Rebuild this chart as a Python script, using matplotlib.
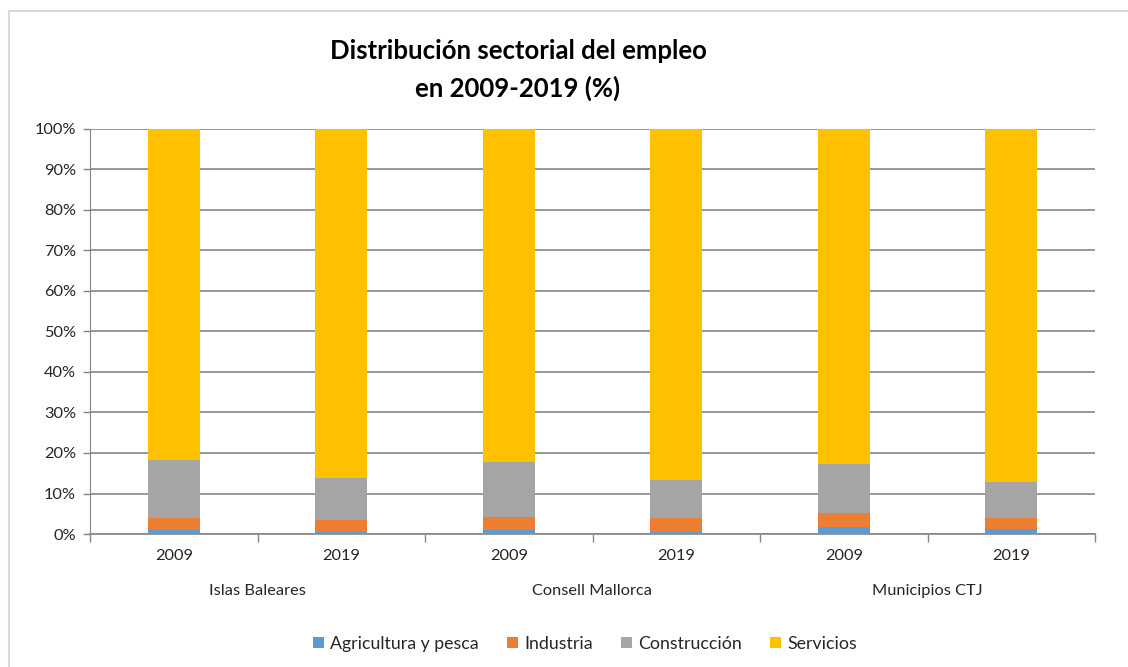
import matplotlib.pyplot as plt
import numpy as np
from matplotlib.patches import Rectangle

plt.rcParams['font.family'] = ['Lato', 'DejaVu Sans']

regions = ['Islas Baleares', 'Consell Mallorca', 'Municipios CTJ']
years = ['2009', '2019', '2009', '2019', '2009', '2019']
series = ['Agricultura y pesca', 'Industria', 'Construcción', 'Servicios']
colors = ['#5B9BD5', '#ED7D31', '#A5A5A5', '#FFC000']

# shares (%)
agricultura = [0.9, 0.6, 1.1, 0.6, 1.8, 1.3]
industria = [3.1, 2.9, 3.2, 3.4, 3.5, 2.7]
construccion = [14.3, 10.4, 13.6, 9.4, 12.1, 8.9]
servicios = [100 - a - b - c for a, b, c in zip(agricultura, industria, construccion)]

def main():
	fig = plt.figure(figsize=(11.28, 6.67), dpi=100)
	fig.patches.append(Rectangle((9 / 1128, -0.05), 1.1, 1.05 - 11 / 667, transform=fig.transFigure,
		fill=False, edgecolor='#D9D9D9', linewidth=1.5))
	ax = fig.add_axes([90 / 1128, 1 - 534 / 667, (1095 - 90) / 1128, (534 - 129) / 667])

	x = np.arange(len(years))
	bottom = np.zeros(len(years))
	for vals, name, col in zip([agricultura, industria, construccion, servicios], series, colors):
		ax.bar(x, vals, 0.31, bottom=bottom, color=col, label=name, zorder=3)
		bottom += np.array(vals)

	ax.set_xlim(-0.5, len(years) - 0.5)
	ax.set_ylim(0, 100)
	ax.set_yticks(np.arange(0, 101, 10))
	ax.set_yticklabels(['%d%%' % v for v in range(0, 101, 10)], fontsize=11.8, color='#262626')
	ax.yaxis.grid(True, color='#868686', linewidth=1.2, zorder=0)
	ax.tick_params(axis='y', length=5, color='#868686', width=1, pad=5)
	ax.set_xticks(np.arange(-0.5, len(years), 1))
	ax.set_xticklabels([])
	ax.tick_params(axis='x', length=6, color='#868686', width=1)
	for s in ['top', 'right']:
		ax.spines[s].set_visible(False)
	ax.spines['left'].set_color('#868686')
	ax.spines['bottom'].set_color('#868686')
	ax.spines['bottom'].set_linewidth(1.2)

	for i, y in enumerate(years):
		ax.text(i, -5.5, y, ha='center', va='center', fontsize=11.8, color='#262626', clip_on=False)
	for j, r in enumerate(regions):
		ax.text(2 * j + 0.5, -14, r, ha='center', va='center', fontsize=11.8, color='#262626', clip_on=False)

	fig.text(518 / 1128, 1 - 70 / 667, 'Distribución sectorial del empleo\nen 2009-2019 (%)', ha='center', va='center',
		fontsize=18.5, fontweight='bold', color='#000000', linespacing=1.6)

	fig.legend(loc='center', bbox_to_anchor=(585 / 1128, 1 - 644 / 667), ncol=4, frameon=False, fontsize=12.8,
		handlelength=0.6, handleheight=0.6, handletextpad=0.35, columnspacing=1.6, labelcolor='#262626')

	fig.savefig('out.png', dpi=100)

if __name__ == '__main__':
	main()
